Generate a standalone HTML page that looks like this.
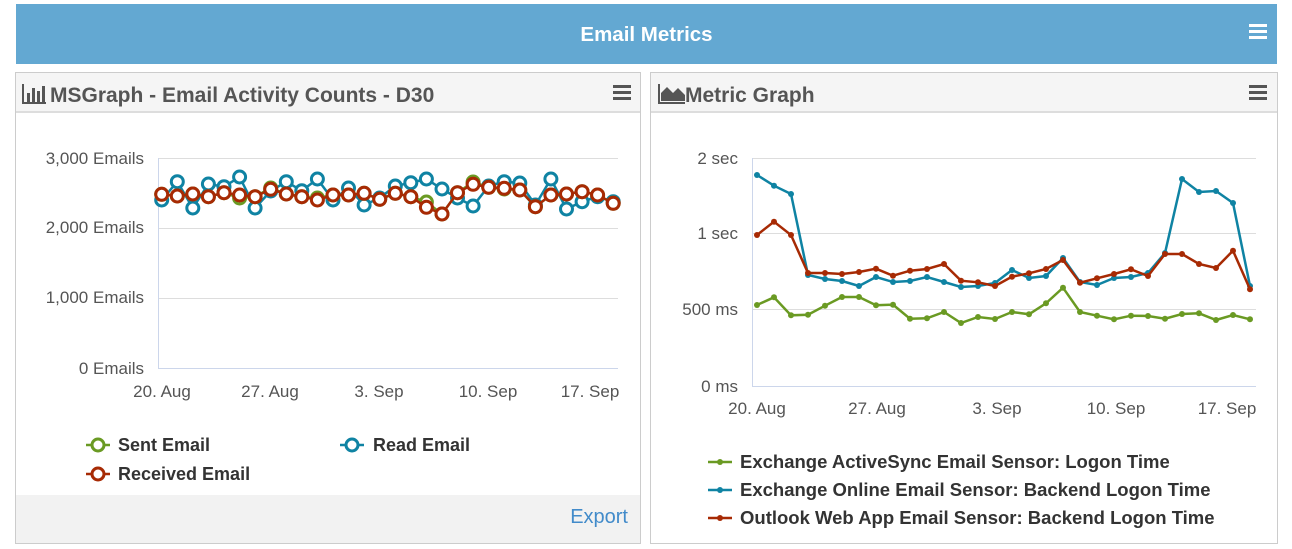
<!DOCTYPE html>
<html><head><meta charset="utf-8"><style>
body{margin:0;width:1292px;height:549px;background:#fff;font-family:"Liberation Sans",sans-serif;position:relative;overflow:hidden}
.hdr{position:absolute;left:16px;top:4px;width:1261px;height:60px;background:#63a8d2;color:#fff;font-weight:bold;font-size:20.5px;text-align:center;line-height:62px}
.panel{position:absolute;top:72px;height:472px;border:1px solid #ccc;background:#fff;box-sizing:border-box}
.ph{height:40px;background:#f5f5f5;border-bottom:2px solid #ddd;font-weight:bold;font-size:21px;color:#555;line-height:46px;padding-left:34px;box-sizing:border-box}
.ham{position:absolute;top:12px;width:18px;height:3px;background:#555;box-shadow:0 6px 0 #555,0 12px 0 #555}
svg{position:absolute;left:0;top:0}
</style></head><body>
<div class="hdr">Email Metrics</div>
<div class="ham" style="left:1249px;top:24px;background:#fff;box-shadow:0 6px 0 #fff,0 12px 0 #fff"></div>
<div class="panel" style="left:15px;width:626px">
<div class="ph">MSGraph - Email Activity Counts - D30</div>
<div class="ham" style="left:597px"></div>
<div style="position:absolute;left:0;right:0;bottom:0;height:48px;background:#f2f2f2"></div>
<div style="position:absolute;right:12px;bottom:14px;color:#428bca;font-size:20px">Export</div>
</div>
<div class="panel" style="left:650px;width:628px">
<div class="ph">Metric Graph</div>
<div class="ham" style="left:598px"></div>
</div>
<svg width="1292" height="549" font-family="Liberation Sans, sans-serif">
<defs>
<marker id="mg" markerWidth="16" markerHeight="16" refX="8" refY="8" markerUnits="userSpaceOnUse"><circle cx="8" cy="8" r="6" fill="#fff" stroke="#6a9a23" stroke-width="3"/></marker>
<marker id="mb" markerWidth="16" markerHeight="16" refX="8" refY="8" markerUnits="userSpaceOnUse"><circle cx="8" cy="8" r="6" fill="#fff" stroke="#0f83a3" stroke-width="3"/></marker>
<marker id="mr" markerWidth="16" markerHeight="16" refX="8" refY="8" markerUnits="userSpaceOnUse"><circle cx="8" cy="8" r="6" fill="#fff" stroke="#a72a04" stroke-width="3"/></marker>
<marker id="dg" markerWidth="8" markerHeight="8" refX="4" refY="4" markerUnits="userSpaceOnUse"><circle cx="4" cy="4" r="3" fill="#6a9a23"/></marker>
<marker id="db" markerWidth="8" markerHeight="8" refX="4" refY="4" markerUnits="userSpaceOnUse"><circle cx="4" cy="4" r="3" fill="#0f83a3"/></marker>
<marker id="dr" markerWidth="8" markerHeight="8" refX="4" refY="4" markerUnits="userSpaceOnUse"><circle cx="4" cy="4" r="3" fill="#a72a04"/></marker>
</defs>
<g fill="#555"><rect x="22" y="84" width="2" height="20"/><rect x="22" y="102" width="24" height="2"/><rect x="27" y="93" width="3" height="9"/><rect x="32" y="88" width="3" height="14"/><rect x="37" y="91" width="3" height="11"/><rect x="42" y="86" width="3" height="16"/></g>
<g fill="#555"><rect x="658" y="84" width="2" height="20"/><rect x="658" y="102" width="27" height="2"/><polygon points="661,101 661,93 667,87 673,93 678,88 685,95 685,101"/></g>
<g stroke="#ddd" stroke-width="1"><line x1="158" y1="158.5" x2="618" y2="158.5"/><line x1="158" y1="228.5" x2="618" y2="228.5"/><line x1="158" y1="298.5" x2="618" y2="298.5"/></g>
<line x1="158.5" y1="158" x2="158.5" y2="368" stroke="#ccd6eb"/>
<line x1="158" y1="368.5" x2="618" y2="368.5" stroke="#ccd6eb"/>
<g fill="#555" font-size="17" text-anchor="end"><text x="144" y="164">3,000 Emails</text><text x="144" y="233">2,000 Emails</text><text x="144" y="303">1,000 Emails</text><text x="144" y="374">0 Emails</text></g>
<g fill="#555" font-size="17" text-anchor="middle"><text x="162" y="397">20. Aug</text><text x="270" y="397">27. Aug</text><text x="379" y="397">3. Sep</text><text x="488" y="397">10. Sep</text><text x="590" y="397">17. Sep</text></g>
<g fill="none" stroke-width="2.5">
<polyline stroke="#0f83a3" marker-start="url(#mb)" marker-mid="url(#mb)" marker-end="url(#mb)" points="161.7,200 177.3,181.7 192.8,208 208.4,184 224,186.7 239.6,177 255.1,208 270.7,191 286.3,181.7 301.8,190.7 317.4,179 333,200 348.5,188 364.1,205 379.7,198 395.3,186 410.8,182.7 426.4,179 442,189 457.5,198 473.1,206 488.7,186 504.2,181.7 519.8,183 535.4,205 550.9,179 566.5,209 582.1,201.7 597.6,196.7 613.2,201.7"/>
<polyline stroke="#6a9a23" marker-start="url(#mg)" marker-mid="url(#mg)" marker-end="url(#mg)" points="161.7,194.3 177.3,196 192.8,194 208.4,196.7 224,192.7 239.6,198 255.1,196.7 270.7,188 286.3,194 301.8,196.7 317.4,198 333,195 348.5,195 364.1,193.3 379.7,199.3 395.3,193.3 410.8,196.7 426.4,202 442,214 457.5,192.7 473.1,182 488.7,187.3 504.2,189 519.8,190 535.4,206.7 550.9,195 566.5,194 582.1,191.7 597.6,195 613.2,203.3"/>
<polyline stroke="#a72a04" marker-start="url(#mr)" marker-mid="url(#mr)" marker-end="url(#mr)" points="161.7,194.3 177.3,196 192.8,194 208.4,196.7 224,192.7 239.6,195 255.1,196.7 270.7,189.3 286.3,194 301.8,196.7 317.4,200 333,195 348.5,195 364.1,193.3 379.7,199.3 395.3,193.3 410.8,196.7 426.4,207.3 442,214 457.5,192.7 473.1,184.3 488.7,187.3 504.2,188.3 519.8,190 535.4,206.7 550.9,195 566.5,194 582.1,191.7 597.6,195 613.2,203.3"/>
</g>
<g font-size="18" font-weight="bold" fill="#333">
<line x1="86" y1="445" x2="110" y2="445" stroke="#6a9a23" stroke-width="2.5"/><circle cx="98" cy="445" r="6" fill="#fff" stroke="#6a9a23" stroke-width="3"/><text x="118" y="451">Sent Email</text>
<line x1="340" y1="445" x2="364" y2="445" stroke="#0f83a3" stroke-width="2.5"/><circle cx="352" cy="445" r="6" fill="#fff" stroke="#0f83a3" stroke-width="3"/><text x="373" y="451">Read Email</text>
<line x1="86" y1="474" x2="110" y2="474" stroke="#a72a04" stroke-width="2.5"/><circle cx="98" cy="474" r="6" fill="#fff" stroke="#a72a04" stroke-width="3"/><text x="118" y="480">Received Email</text>
</g>
<g stroke="#ddd" stroke-width="1"><line x1="752" y1="158.5" x2="1256" y2="158.5"/><line x1="752" y1="233.5" x2="1256" y2="233.5"/><line x1="752" y1="309.5" x2="1256" y2="309.5"/></g>
<line x1="752.5" y1="158" x2="752.5" y2="386" stroke="#ccd6eb"/>
<line x1="752" y1="386.5" x2="1256" y2="386.5" stroke="#ccd6eb"/>
<g fill="#555" font-size="17" text-anchor="end"><text x="738" y="164">2 sec</text><text x="738" y="239">1 sec</text><text x="738" y="315">500 ms</text><text x="738" y="392">0 ms</text></g>
<g fill="#555" font-size="17" text-anchor="middle"><text x="757" y="414">20. Aug</text><text x="877" y="414">27. Aug</text><text x="997" y="414">3. Sep</text><text x="1116" y="414">10. Sep</text><text x="1227" y="414">17. Sep</text></g>
<g fill="none" stroke-width="2.5">
<polyline stroke="#6a9a23" marker-start="url(#dg)" marker-mid="url(#dg)" marker-end="url(#dg)" points="757,305 774,297.3 791,315.3 808,314.7 825,305.7 842,297 859,297 876,305.3 893,304.7 910,318.7 927,318.3 944,312 961,323 978,317 995,319 1012,312 1029,314.3 1046,303.3 1063,287.7 1080,312 1097,315.7 1114,319.3 1131,315.7 1148,316 1165,318.7 1182,314 1199,313.3 1216,320 1233,315 1250,319.3"/>
<polyline stroke="#0f83a3" marker-start="url(#db)" marker-mid="url(#db)" marker-end="url(#db)" points="757,175 774,185.7 791,194 808,275 825,279 842,281 859,286 876,277 893,282 910,281 927,277 944,282 961,287 978,286 995,283 1012,270 1029,278 1046,276 1063,258 1080,282 1097,285 1114,278 1131,277 1148,273 1165,253 1182,179 1199,192 1216,191 1233,203 1250,286"/>
<polyline stroke="#a72a04" marker-start="url(#dr)" marker-mid="url(#dr)" marker-end="url(#dr)" points="757,235 774,221.7 791,235 808,273 825,273 842,274 859,272 876,268.7 893,275.7 910,270.7 927,269 944,264 961,280.7 978,282.3 995,286 1012,276.7 1029,273.3 1046,269 1063,260 1080,282.7 1097,278.3 1114,274 1131,269.3 1148,276 1165,254 1182,254 1199,264 1216,268 1233,250.7 1250,289.3"/>
</g>
<g font-size="18.5" font-weight="bold" fill="#333">
<line x1="708" y1="462" x2="732" y2="462" stroke="#6a9a23" stroke-width="2.5"/><circle cx="720" cy="462" r="3" fill="#6a9a23"/><text x="740" y="468">Exchange ActiveSync Email Sensor: Logon Time</text>
<line x1="708" y1="490" x2="732" y2="490" stroke="#0f83a3" stroke-width="2.5"/><circle cx="720" cy="490" r="3" fill="#0f83a3"/><text x="740" y="496">Exchange Online Email Sensor: Backend Logon Time</text>
<line x1="708" y1="518" x2="732" y2="518" stroke="#a72a04" stroke-width="2.5"/><circle cx="720" cy="518" r="3" fill="#a72a04"/><text x="740" y="524">Outlook Web App Email Sensor: Backend Logon Time</text>
</g>
</svg>
</body></html>
